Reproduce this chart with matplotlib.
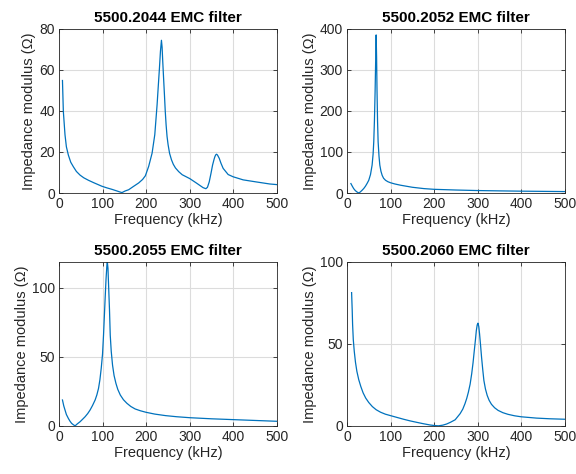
import matplotlib
matplotlib.use("Agg")
import matplotlib.pyplot as plt

plt.rcParams["font.family"] = ["Liberation Sans", "DejaVu Sans"]

titles = ["5500.2044 EMC filter", "5500.2052 EMC filter",
          "5500.2055 EMC filter", "5500.2060 EMC filter"]

# 5500.2044
f_2044 = [8, 10, 13.8, 17, 21.5, 27, 33, 40, 48.5, 57, 67.7, 80, 98.5, 110, 121.5, 133, 140, 144.6,
          152, 160, 171, 183, 192, 198.4, 206, 213.8, 220, 225.3, 228, 230.7, 233, 235.3,
          236.8, 238.3, 240.2, 242.2, 244, 246, 248.2, 250.6, 254, 258.3, 262.5, 267.5, 275,
          283, 300.5, 316, 331, 337.4, 341, 345, 349, 352.7, 356, 358, 360, 361.8, 364, 368,
          372, 377, 388.5, 400, 423, 453, 484, 500]
z_2044 = [54.8, 39.8, 28.4, 22.5, 18.5, 15.0, 12.8, 10.5, 8.7, 7.4, 6.2, 5.0, 3.3, 2.5, 1.8, 1.0, 0.5, 0.2,
          1.0, 1.6, 3.2, 4.9, 6.6, 8.4, 13, 19.4, 28.4, 43, 52, 60.8, 69, 74.4,
          71, 64, 56, 47.8, 40, 33.2, 27.5, 23.5, 19.3, 16.2, 14.0, 12.2, 10.4,
          8.9, 7.0, 4.8, 2.6, 2.1, 2.8, 5.4, 9.5, 13.6, 16.3, 17.7, 18.6, 18.9, 18.5, 16.9,
          14.5, 12.0, 9.0, 7.9, 6.4, 5.4, 4.4, 4.1]

# 5500.2052
f_2052 = [9, 12, 15.4, 19, 23, 25.5, 27.7, 31, 34.6, 38.5, 42.3, 46, 50, 54, 57.7, 60, 61.5, 63,
          64.6, 66, 67, 68, 69, 70.2, 71.5, 73.5, 75.4, 78, 80.8, 84, 88.5, 94, 100, 110, 123,
          150, 177, 200, 250, 300, 350, 400, 450, 500]
z_2052 = [23, 17, 10.7, 6.0, 2.5, 1.0, 0.2, 3.0, 6.6, 11, 16.4, 23, 31, 45, 68, 95, 125, 175,
          248, 330, 385, 330, 248, 175, 125, 90, 68, 53, 43, 36, 31, 27.5, 25, 22, 19,
          14, 10.7, 9, 7.3, 6, 5.2, 4.5, 4.0, 3.5]

# 5500.2055
f_2055 = [8, 11, 13.8, 17, 21.5, 25, 29, 33, 37, 42, 48.5, 54, 60, 66, 71.5, 77, 83, 87, 90.8,
          94, 97, 100, 102.3, 104, 106, 108, 110, 111, 112.5, 114, 116, 117.7, 120, 123, 126.5,
          130.8, 135, 140.8, 148, 156, 165, 175, 187, 200, 220, 244.6, 270, 300, 350, 400,
          450, 500]
z_2055 = [18.8, 14.5, 11.6, 8.3, 5.5, 3.6, 1.9, 0.9, 0.1, 1.5, 3.1, 4.8, 6.7, 9.0, 11.6, 14.8, 18.8, 22.5, 27.2,
          33.5, 41.7, 52, 65.8, 78, 92.3, 106, 116, 118.8, 114, 101, 84, 65.8, 54, 44, 36.5,
          30.8, 26.5, 22.4, 19.0, 16.4, 14.1, 12.3, 11.0, 9.9, 8.6, 7.5, 6.7, 6.0, 5.2, 4.6,
          4.0, 3.4]

# 5500.2060
f_2060 = [10.6, 12, 12.9, 14.5, 16.7, 19.5, 22.7, 27, 31.8, 37, 43, 50, 58.3, 67, 77, 88, 100,
          115, 130, 145, 160.6, 175, 191, 200, 210, 220, 228.8, 238, 248.5, 259.8, 266, 271,
          275, 278.8, 282.8, 286.4, 289.5, 292.4, 295, 297, 299, 300.8, 302.7, 304.5, 306.8,
          309, 311.7, 314.4, 318, 322, 326.5, 331.8, 339, 347, 358, 369.7, 385, 400, 435,
          465, 500]
z_2060 = [81.2, 70.5, 61.8, 52.5, 45.5, 38.8, 33.3, 28.2, 24.0, 20.2, 17.0, 14.3, 11.8, 9.9, 8.4, 7.2, 6.3,
          5.2, 4.1, 3.1, 2.2, 1.4, 0.6, 0.3, 0.1, 0.5, 1.2, 2.3, 3.8, 7.5, 10.3, 13.6,
          16.8, 20.6, 25.5, 31.8, 38.5, 46, 52.5, 58, 61.5, 62.6, 60.5, 56, 49,
          42, 34.5, 27.7, 22.5, 18.6, 15.6, 13.2, 11.1, 9.5, 8.1, 7.1, 6.2, 5.6, 4.8,
          4.4, 4.1]

freqs = [f_2044, f_2052, f_2055, f_2060]
zs = [z_2044, z_2052, z_2055, z_2060]
ylims = [(0, 80), (0, 400), (0, 118.8), (0, 100)]
yticks = [[0, 20, 40, 60, 80], [0, 100, 200, 300, 400], [0, 50, 100], [0, 50, 100]]
xticks = [0, 100, 200, 300, 400, 500]

fig = plt.figure(figsize=(5.76, 4.74), dpi=100)
lefts = [0.1024, 0.6024, 0.1024, 0.6024]
bottoms = [0.5928, 0.5928, 0.1013, 0.1013]
w, h = 0.378, 0.3465
ink = "#262626"

for i in range(4):
    ax = fig.add_axes([lefts[i], bottoms[i], w, h])
    ax.plot(freqs[i], zs[i], color="#0072BD", linewidth=0.9)
    ax.set_xlim(0, 500)
    ax.set_ylim(*ylims[i])
    ax.set_xticks(xticks)
    ax.set_yticks(yticks[i])
    ax.grid(True, color="#dcdcdc", linewidth=0.8)
    ax.set_axisbelow(True)
    ax.tick_params(direction="in", top=True, right=True, length=3, width=0.6,
                   labelsize=10, colors=ink, pad=3)
    for s in ax.spines.values():
        s.set_color(ink)
        s.set_linewidth(0.6)
    ax.set_title(titles[i], fontsize=11, fontweight="bold", color="black", pad=5)
    ax.set_xlabel("Frequency (kHz)", fontsize=10.5, color=ink, labelpad=1)
    ax.set_ylabel("Impedance modulus (Ω)", fontsize=10.5, color=ink, labelpad=2)

fig.savefig("out.png", dpi=100, facecolor="white")
